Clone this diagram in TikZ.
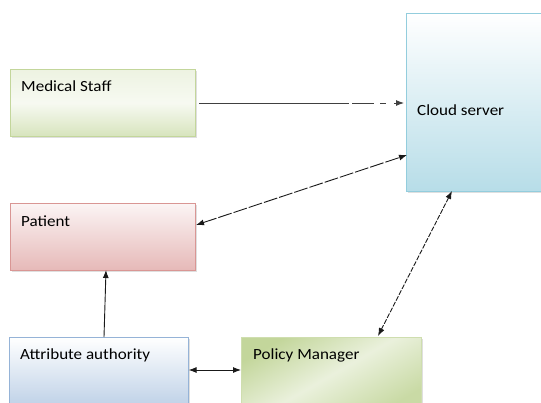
\documentclass[tikz,border=0pt]{standalone}
\usepackage{fontspec}
\setmainfont{Carlito}[FakeStretch=1.1]
\usetikzlibrary{arrows.meta,shadows}
\definecolor{gfill}{HTML}{D7E4BD}
\definecolor{gline}{HTML}{C3D69B}
\definecolor{pfill}{HTML}{E6B9B8}
\definecolor{pline}{HTML}{D99694}
\definecolor{cfill}{HTML}{B7DDE8}
\definecolor{cline}{HTML}{93CDDD}
\definecolor{afill}{HTML}{B9CDE5}
\definecolor{aline}{HTML}{95B3D7}
\definecolor{mfill}{HTML}{C3D69B}
\begin{document}
\begin{tikzpicture}[x=1pt,y=-1pt,
  box/.style={rectangle,anchor=north west,inner sep=0pt,line width=0.6pt,
    drop shadow={shadow xshift=1.2pt,shadow yshift=-1.2pt,opacity=0.25}},
  lbl/.style={anchor=base west,inner sep=0pt,font=\fontsize{15.5}{17}\selectfont,text=black},
  tip/.style={-{Latex[length=8pt,width=6pt]}},
  tips/.style={{Latex[length=8pt,width=6pt]}-{Latex[length=8pt,width=6pt]}},
  conn/.style={line width=0.9pt,black!90}]
\useasboundingbox (0,0) rectangle (541,402);
\node[box,draw=gline,top color=gfill!45,bottom color=gfill,middle color=gfill!20,minimum width=185pt,minimum height=67pt] (ms) at (10,69) {};
\node[box,draw=pline,top color=pfill!15,bottom color=pfill,minimum width=185pt,minimum height=67pt] (pa) at (10,203) {};
\node[box,draw=cline,top color=white,bottom color=cfill,minimum width=140pt,minimum height=178pt] (cs) at (406,13) {};
\node[box,draw=aline,top color=white,bottom color=afill,minimum width=179pt,minimum height=75pt] (aa) at (9,337) {};
\node[box,draw=gline!80,left color=mfill,right color=mfill!90,middle color=mfill!35,shading angle=30,minimum width=180pt,minimum height=75pt] (pm) at (241,337) {};
\node[lbl] (tms) at (21,91) {Medical Staff};
\node[lbl] (tpa) at (21,226) {Patient};
\node[lbl] (tcs) at (417,115) {Cloud server};
\node[lbl] (taa) at (20,359) {Attribute authority};
\node[lbl] (tpm) at (253,359) {Policy Manager};
\coordinate (a1) at (199,103);
\coordinate (a2) at (404,103);
\draw[conn,tip,black!75,dash pattern=on 150pt off 3pt on 22pt off 6pt on 6pt off 8pt] (a1) -- (a2);
\coordinate (b1) at (196,225);
\coordinate (b2) at (407,155);
\draw[conn,tips,dash pattern=on 14pt off 2pt] (b1) -- (b2);
\coordinate (c1) at (452,191);
\coordinate (c2) at (378,336);
\draw[conn,tips,dash pattern=on 5pt off 1.5pt] (c1) -- (c2);
\draw[conn,tip] (104,337) -- (106,270);
\draw[conn,tips] (aa.east |- 0,370) -- (pm.west |- 0,370);
\end{tikzpicture}
\end{document}
